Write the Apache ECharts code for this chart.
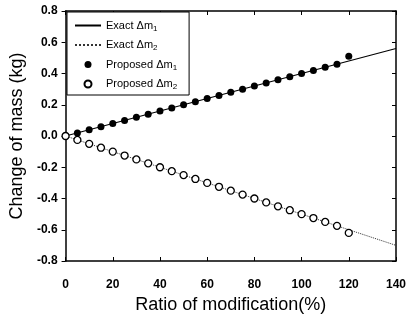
<!DOCTYPE html>
<html>
<head>
<meta charset="utf-8">
<script src="https://cdn.jsdelivr.net/npm/echarts@6/dist/echarts.min.js"></script>
<style>html,body{margin:0;padding:0;background:#fff;}#c{width:409px;height:320px;}</style>
</head>
<body>
<div id="c"></div>
<script>
// Data
var exactX = [0, 20, 40, 60, 80, 100, 120, 140];
var exactM1 = [0, 0.08, 0.16, 0.24, 0.32, 0.40, 0.48, 0.56];
var exactM2 = [0, -0.10, -0.20, -0.30, -0.40, -0.50, -0.60, -0.70];
var propX = [0, 5, 10, 15, 20, 25, 30, 35, 40, 45, 50, 55, 60, 65, 70, 75, 80, 85, 90, 95, 100, 105, 110, 115, 120];
var propM1 = [0, 0.02, 0.04, 0.06, 0.08, 0.10, 0.12, 0.14, 0.16, 0.18, 0.20, 0.22, 0.24, 0.26, 0.28, 0.30, 0.32, 0.34, 0.36, 0.38, 0.40, 0.42, 0.44, 0.46, 0.51];
var propM2 = [0, -0.025, -0.05, -0.075, -0.10, -0.125, -0.15, -0.175, -0.20, -0.225, -0.25, -0.275, -0.30, -0.325, -0.35, -0.375, -0.40, -0.425, -0.45, -0.475, -0.50, -0.525, -0.55, -0.575, -0.62];
var xTicks = {min: 0, max: 140, interval: 20};
var yTicks = {min: -0.8, max: 0.8, interval: 0.2};

function zip(xs, ys) { return xs.map(function (x, i) { return [x, ys[i]]; }); }

var font = 'Liberation Sans, Arial, sans-serif';
var chart = echarts.init(document.getElementById('c'), null, {renderer: 'canvas'});
var names = {
  'Exact Δm1': 'Exact Δm{sub|1}',
  'Exact Δm2': 'Exact Δm{sub|2}',
  'Proposed Δm1': 'Proposed Δm{sub|1}',
  'Proposed Δm2': 'Proposed Δm{sub|2}'
};
chart.setOption({
  animation: false,
  backgroundColor: '#fff',
  grid: {left: 64, right: 11, top: 11, bottom: 59, containLabel: false},
  legend: {
    orient: 'vertical', left: 67, top: 12,
    backgroundColor: '#fff', borderColor: '#000', borderWidth: 1,
    padding: [8, 12, 4, 7], itemGap: 7, itemWidth: 26, itemHeight: 7,
    data: [
      {name: 'Exact Δm1', itemStyle: {opacity: 0}},
      {name: 'Exact Δm2', itemStyle: {opacity: 0}},
      {name: 'Proposed Δm1'},
      {name: 'Proposed Δm2'}
    ],
    formatter: function (n) { return names[n]; },
    textStyle: {
      fontFamily: font, fontSize: 11, color: '#000',
      rich: {sub: {fontFamily: font, fontSize: 8, color: '#000', verticalAlign: 'bottom', padding: [6, 0, 0, 0]}}
    }
  },
  xAxis: [{
    type: 'value', min: xTicks.min, max: xTicks.max, interval: xTicks.interval,
    position: 'bottom',
    name: 'Ratio of modification(%)', nameLocation: 'middle', nameGap: 34,
    nameTextStyle: {fontFamily: font, fontSize: 18, color: '#000'},
    axisLine: {show: true, onZero: false, lineStyle: {color: '#000', width: 1.5}},
    axisTick: {show: true, inside: true, length: 4, lineStyle: {color: '#000'}},
    axisLabel: {fontFamily: font, fontSize: 12, fontWeight: 'bold', color: '#000', margin: 18},
    splitLine: {show: false}
  }, {
    type: 'value', min: xTicks.min, max: xTicks.max, interval: xTicks.interval,
    position: 'top',
    axisLine: {show: true, onZero: false, lineStyle: {color: '#000', width: 1.5}},
    axisTick: {show: true, inside: true, length: 4, lineStyle: {color: '#000'}},
    axisLabel: {show: false}, splitLine: {show: false}
  }],
  yAxis: [{
    type: 'value', min: yTicks.min, max: yTicks.max, interval: yTicks.interval,
    position: 'left',
    name: 'Change of mass (kg)', nameLocation: 'middle', nameGap: 35,
    nameTextStyle: {fontFamily: font, fontSize: 18, color: '#000'},
    axisLine: {show: true, onZero: false, lineStyle: {color: '#000', width: 1.5}},
    axisTick: {show: true, inside: false, length: 4, lineStyle: {color: '#000'}},
    axisLabel: {fontFamily: font, fontSize: 12, fontWeight: 'bold', color: '#000', margin: 8,
      formatter: function (v) { return v.toFixed(1); }},
    splitLine: {show: false}
  }, {
    type: 'value', min: yTicks.min, max: yTicks.max, interval: yTicks.interval,
    position: 'right',
    axisLine: {show: true, onZero: false, lineStyle: {color: '#000', width: 1.5}},
    axisTick: {show: true, inside: true, length: 4, lineStyle: {color: '#000'}},
    axisLabel: {show: false}, splitLine: {show: false}
  }],
  series: [{
    name: 'Exact Δm1', type: 'line', data: zip(exactX, exactM1),
    symbol: 'none', lineStyle: {color: '#000', width: 1.2}, itemStyle: {color: '#000'}, z: 2
  }, {
    name: 'Exact Δm2', type: 'line', data: zip(exactX, exactM2),
    symbol: 'none', lineStyle: {color: '#333', width: 1, type: 'dotted'}, itemStyle: {color: '#333'}, z: 2
  }, {
    name: 'Proposed Δm1', type: 'scatter', data: zip(propX, propM1),
    symbol: 'circle', symbolSize: 7, itemStyle: {color: '#000', opacity: 1}, z: 3
  }, {
    name: 'Proposed Δm2', type: 'scatter', data: zip(propX, propM2),
    symbol: 'circle', symbolSize: 7, itemStyle: {color: '#fff', borderColor: '#000', borderWidth: 1.3, opacity: 1}, z: 4
  }]
});
</script>
</body>
</html>
